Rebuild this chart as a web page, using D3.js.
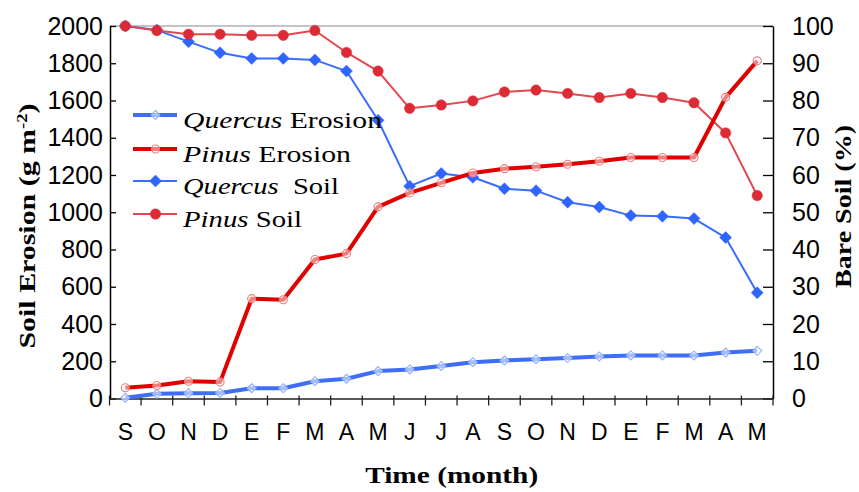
<!DOCTYPE html>
<html>
<head>
<meta charset="utf-8">
<script src="https://cdn.jsdelivr.net/npm/d3@7"></script>
<style>
  html, body { margin: 0; padding: 0; background: #fff; }
  svg { display: block; }
</style>
</head>
<body>
<script>
const months = ["S","O","N","D","E","F","M","A","M","J","J","A","S","O","N","D","E","F","M","A","M"];
const quercusErosion = [4,25,28,30,55,55,93,106,147,156,175,195,204,211,217,226,231,231,231,247,256];
const pinusErosion = [58,70,93,88,536,530,746,778,1029,1104,1158,1211,1234,1244,1258,1274,1294,1294,1294,1617,1813];
const quercusSoil = [100,98.9,95.8,92.8,91.3,91.3,90.9,87.9,74.7,57.0,60.4,59.4,56.3,55.8,52.7,51.4,49.1,48.9,48.3,43.2,28.4];
const pinusSoil = [100,98.8,97.8,97.8,97.5,97.5,98.8,92.9,87.9,77.9,78.8,79.9,82.3,82.8,81.9,80.8,81.9,80.8,79.4,71.3,54.5];
const leftTicks = [0,200,400,600,800,1000,1200,1400,1600,1800,2000];
const rightTicks = [0,10,20,30,40,50,60,70,80,90,100];

const W = 859, H = 492;
const plot = {left: 110, right: 773, top: 26, bottom: 398.5};

const svg = d3.select("body").append("svg").attr("width", W).attr("height", H);

const idx = months.map((m, i) => i);
const x = d3.scaleBand().domain(idx).range([plot.left - 0.5, plot.right]).padding(0);
const cx = i => x(i) + x.bandwidth() / 2;
const yL = d3.scaleLinear().domain([0, 2000]).range([plot.bottom, plot.top]);
const yR = d3.scaleLinear().domain([0, 100]).range([plot.bottom, plot.top]);

const tickFont = "'Liberation Sans', Arial, sans-serif";
const serif = "'Liberation Serif', 'Times New Roman', serif";

// top border
svg.append("line").attr("x1", plot.left).attr("x2", plot.right)
  .attr("y1", plot.top).attr("y2", plot.top)
  .attr("stroke", "#b0b0b0").attr("stroke-width", 1.5);

const fmt = d3.format("d");
const gL = svg.append("g").attr("transform", `translate(${plot.left},0)`)
  .call(d3.axisLeft(yL).tickValues(leftTicks).tickFormat(fmt).tickSizeInner(-6).tickSizeOuter(0).tickPadding(7));
const gR = svg.append("g").attr("transform", `translate(${plot.right},0)`)
  .call(d3.axisRight(yR).tickValues(rightTicks).tickFormat(fmt).tickSizeInner(-10).tickSizeOuter(0).tickPadding(19));
const gB = svg.append("g").attr("transform", `translate(0,${plot.bottom})`)
  .call(d3.axisBottom(x).tickFormat(i => months[i]).tickSize(0).tickPadding(25));

[gL, gR].forEach(g => {
  g.selectAll("text").attr("font-family", tickFont).attr("font-size", 25).attr("fill", "#000");
  g.selectAll("line").attr("stroke", "#000").attr("stroke-width", 1.3);
  g.select(".domain").attr("stroke", "#000").attr("stroke-width", 1.5);
});
gB.selectAll("text").attr("font-family", tickFont).attr("font-size", 23).attr("fill", "#000");
gB.select(".domain").attr("stroke", "#222").attr("stroke-width", 1.5);

// x band boundary ticks
const bounds = idx.map(i => x(i)).concat([x(idx[idx.length - 1]) + x.bandwidth()]);
svg.append("g").selectAll("line").data(bounds).join("line")
  .attr("x1", d => d).attr("x2", d => d)
  .attr("y1", plot.bottom - 3).attr("y2", plot.bottom + 7)
  .attr("stroke", "#222").attr("stroke-width", 1.3);

const diamond = r => `M0,${-r}L${r},0L0,${r}L${-r},0Z`;

function drawSeries(vals, yScale, opt) {
  const line = d3.line().x((d, i) => cx(i)).y(d => yScale(d));
  svg.append("path").datum(vals).attr("d", line)
    .attr("fill", "none").attr("stroke", opt.color).attr("stroke-width", opt.width)
    .attr("stroke-linejoin", "round");
  const g = svg.append("g");
  if (opt.marker === "circle") {
    g.selectAll("circle").data(vals).join("circle")
      .attr("cx", (d, i) => cx(i)).attr("cy", d => yScale(d)).attr("r", opt.r)
      .attr("fill", opt.mfill).attr("stroke", opt.mstroke).attr("stroke-width", opt.msw);
  } else {
    g.selectAll("path").data(vals).join("path")
      .attr("d", diamond(opt.r))
      .attr("transform", (d, i) => `translate(${cx(i)},${yScale(d)})`)
      .attr("fill", opt.mfill).attr("stroke", opt.mstroke).attr("stroke-width", opt.msw);
  }
}

const styles = {
  qSoil: {color: "#3a6cff", width: 2, marker: "diamond", r: 6, mfill: "#2f64ff", mstroke: "#2f64ff", msw: 0.5},
  pSoil: {color: "#e4474f", width: 2, marker: "circle", r: 5.2, mfill: "#dd2b35", mstroke: "#dd2b35", msw: 0.5},
  qEro: {color: "#3d6ef5", width: 4, marker: "diamond", r: 4.5, mfill: "rgba(255,255,255,0.55)", mstroke: "#8fb0ff", msw: 1.1},
  pEro: {color: "#e00000", width: 4, marker: "circle", r: 4, mfill: "rgba(255,255,255,0.5)", mstroke: "#f07a7a", msw: 1.1}
};

drawSeries(quercusSoil, yR, styles.qSoil);
drawSeries(pinusSoil, yR, styles.pSoil);
drawSeries(quercusErosion, yL, styles.qEro);
drawSeries(pinusErosion, yL, styles.pEro);

// legend
const legend = [
  {sp: "Quercus", rest: " Erosion", st: styles.qEro, ly: 115, ty: 127.5, len: 199},
  {sp: "Pinus", rest: " Erosion", st: styles.pEro, ly: 149, ty: 161.5, len: 168},
  {sp: "Quercus", rest: "  Soil", st: styles.qSoil, ly: 181, ty: 194, len: 156},
  {sp: "Pinus", rest: " Soil", st: styles.pSoil, ly: 214, ty: 226.5, len: 119}
];
const lg = svg.append("g");
legend.forEach(d => {
  lg.append("line").attr("x1", 133).attr("x2", 177).attr("y1", d.ly).attr("y2", d.ly)
    .attr("stroke", d.st.color).attr("stroke-width", d.st.width);
  if (d.st.marker === "circle") {
    lg.append("circle").attr("cx", 155.5).attr("cy", d.ly).attr("r", d.st.r)
      .attr("fill", d.st.mfill).attr("stroke", d.st.mstroke).attr("stroke-width", d.st.msw);
  } else {
    lg.append("path").attr("d", diamond(d.st.r)).attr("transform", `translate(155.5,${d.ly})`)
      .attr("fill", d.st.mfill).attr("stroke", d.st.mstroke).attr("stroke-width", d.st.msw);
  }
  const t = lg.append("text").attr("x", 183).attr("y", d.ty)
    .attr("font-family", serif).attr("font-size", 24).attr("fill", "#000")
    .attr("textLength", d.len).attr("lengthAdjust", "spacingAndGlyphs")
    .style("white-space", "pre");
  t.append("tspan").attr("font-style", "italic").text(d.sp);
  t.append("tspan").text(d.rest);
});

// axis titles
const lt = svg.append("text")
  .attr("transform", "translate(35,226) rotate(-90)")
  .attr("text-anchor", "middle").attr("font-family", serif).attr("font-weight", "bold")
  .attr("font-size", 24).attr("fill", "#000")
  .attr("textLength", 245).attr("lengthAdjust", "spacingAndGlyphs");
lt.append("tspan").text("Soil Erosion (g m");
lt.append("tspan").attr("baseline-shift", "super").attr("font-size", 15).text("-2");
lt.append("tspan").text(")");

svg.append("text")
  .attr("transform", "translate(851,206.5) rotate(-90)")
  .attr("text-anchor", "middle").attr("font-family", serif).attr("font-weight", "bold")
  .attr("font-size", 24).attr("fill", "#000")
  .attr("textLength", 163).attr("lengthAdjust", "spacingAndGlyphs")
  .text("Bare Soil (%)");

svg.append("text")
  .attr("x", 451.7).attr("y", 483)
  .attr("text-anchor", "middle").attr("font-family", serif).attr("font-weight", "bold")
  .attr("font-size", 24).attr("fill", "#000")
  .attr("textLength", 173).attr("lengthAdjust", "spacingAndGlyphs")
  .text("Time (month)");
</script>
</body>
</html>
